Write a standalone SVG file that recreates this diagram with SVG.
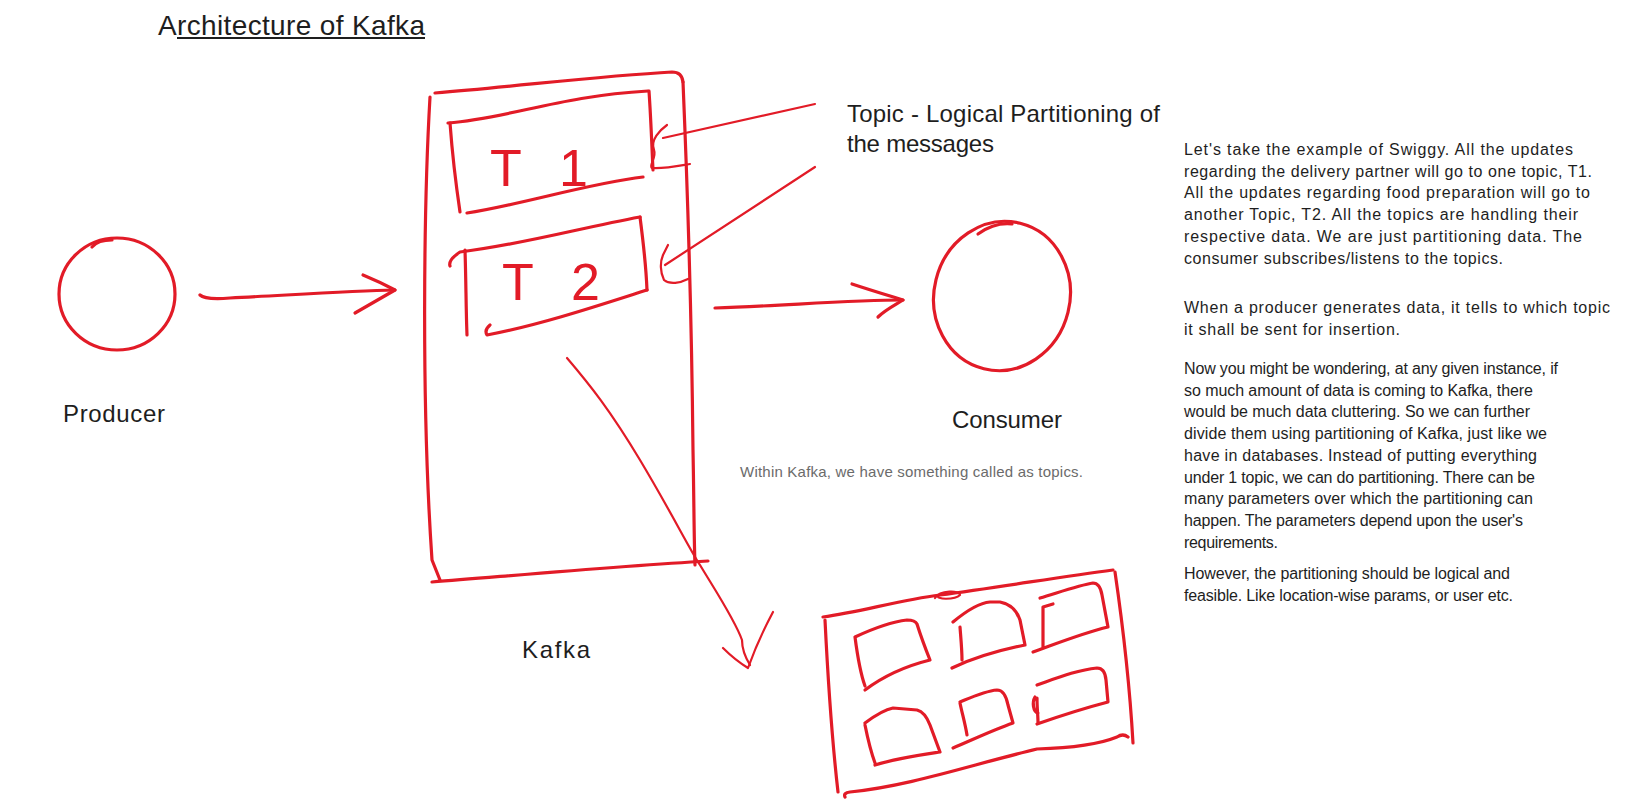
<svg xmlns="http://www.w3.org/2000/svg" width="1642" height="810" viewBox="0 0 1642 810">
<style>
.r{fill:none;stroke:#e21b27;stroke-width:3.2;stroke-linecap:round;stroke-linejoin:round}
.rt{fill:none;stroke:#e21b27;stroke-width:2.2;stroke-linecap:round;stroke-linejoin:round}
.lbl{font-family:"Liberation Sans",Arial,sans-serif;font-size:24px;fill:#1e1e1e}
.note{font-family:"Liberation Sans",Arial,sans-serif;font-size:16px;fill:#1e1e1e}
.tt{font-family:"Liberation Sans",Arial,sans-serif;font-size:52px;fill:#e21b27}
</style>
<rect width="1642" height="810" fill="#ffffff"/>
<g id="title">
<text x="158" y="35" font-family="'Liberation Sans',Arial,sans-serif" font-size="28" fill="#1e1e1e" textLength="267">Architecture of Kafka</text>
<path d="M177,38 L425,38" stroke="#1e1e1e" stroke-width="2" fill="none"/>
</g>
<g id="producer">
<ellipse class="r" cx="117" cy="294" rx="58" ry="56"/>
<path class="r" d="M92,247 Q98,240 112,240"/>
<text class="lbl" x="63" y="422" textLength="102">Producer</text>
</g>
<g id="kafka">
<path class="r" d="M430,97 C424,200 421,400 432,560 L440,580"/>
<path class="r" d="M435,93 C520,86 600,76 672,72 Q682,72 683,82"/>
<path class="r" d="M683,82 C688,200 692,350 693,450 C694,500 694,540 695,565"/>
<path class="r" d="M432,582 C520,575 620,566 708,561"/>
<text class="lbl" x="522" y="658" textLength="68">Kafka</text>
</g>
<g id="t1">
<path class="r" d="M450,123 C452,150 456,185 460,212"/>
<path class="r" d="M448,123 C510,118 560,96 648,91"/>
<path class="r" d="M649,91 C651,120 652,150 653,170"/>
<path class="r" d="M643,177 C590,183 520,205 467,213"/>
<text class="tt" x="490" y="186" textLength="98">T1</text>
</g>
<g id="t2">
<path class="r" d="M450,266 Q448,260 460,252 C520,245 580,228 640,217"/>
<path class="r" d="M465,250 C466,280 466,310 467,335"/>
<path class="r" d="M640,217 C643,240 646,265 647,290"/>
<path class="r" d="M647,290 C600,305 540,325 487,335 Q484,330 490,325"/>
<text class="tt" x="502" y="300" textLength="98">T2</text>
</g>
<g id="consumer">
<ellipse class="r" cx="1002" cy="296" rx="68" ry="75" transform="rotate(14 1002 296)"/>
<path class="r" d="M978,234 Q995,222 1012,224"/>
<text class="lbl" x="952" y="428" textLength="110">Consumer</text>
</g>
<g id="topic-label">
<text class="lbl" x="847" y="122" textLength="313">Topic - Logical Partitioning of</text>
<text class="lbl" x="847" y="152" textLength="147">the messages</text>
</g>
<g id="caption">
<text x="740" y="477" font-family="'Liberation Sans',Arial,sans-serif" font-size="15" fill="#6b6b6b" textLength="343">Within Kafka, we have something called as topics.</text>
</g>
<g id="partitions">
<path class="r" d="M825,620 C828,680 832,740 838,792"/>
<path class="r" d="M823,617 C860,612 900,600 940,595 C1000,587 1060,577 1113,570"/>
<path class="r" d="M1115,572 C1122,620 1130,690 1133,743"/>
<path class="r" d="M845,797 Q843,793 850,792 C910,786 970,765 1037,749 C1070,748 1100,744 1117,737 Q1123,733 1128,737"/>
<path class="rt" d="M935,598 C940,590 960,590 960,595 C955,600 935,600 938,595"/>
<path class="r" d="M855,637 C858,660 861,675 865,686 M855,637 C870,630 890,622 907,620 Q915,620 917,624 C922,640 926,650 930,660 C910,665 885,675 865,690"/>
<path class="r" d="M960,627 C961,640 962,650 962,660 M953,622 C965,612 978,603 990,602 L1000,602 Q1015,605 1020,620 L1025,645 C1000,650 975,657 952,668"/>
<path class="r" d="M1043,607 C1043,620 1043,635 1043,647 M1043,607 L1053,604 M1040,598 C1060,592 1080,585 1093,583 Q1100,583 1102,595 L1108,627 C1083,633 1058,643 1033,652"/>
<path class="r" d="M865,725 C868,740 871,752 875,763 M865,723 C873,717 883,710 893,708 L917,710 Q925,712 930,725 L940,752 C920,755 898,758 875,765"/>
<path class="r" d="M960,703 C962,713 965,723 967,735 M960,702 C972,697 985,691 997,690 Q1005,690 1008,705 L1013,723 C993,730 972,740 953,748"/>
<path class="r" d="M1037,698 C1037,708 1038,716 1038,723 M1035,697 C1032,702 1033,712 1038,713 M1037,685 C1057,678 1077,670 1097,668 Q1105,668 1106,680 L1108,702 C1085,708 1060,716 1037,724"/>
</g>
<g id="notes" class="note">
<text x="1184" y="155" textLength="389">Let's take the example of Swiggy. All the updates</text>
<text x="1184" y="176.7" textLength="408">regarding the delivery partner will go to one topic, T1.</text>
<text x="1184" y="198.4" textLength="406">All the updates regarding food preparation will go to</text>
<text x="1184" y="220" textLength="394">another Topic, T2. All the topics are handling their</text>
<text x="1184" y="241.8" textLength="398">respective data. We are just partitioning data. The</text>
<text x="1184" y="263.5" textLength="319">consumer subscribes/listens to the topics.</text>
<text x="1184" y="313" textLength="426">When a producer generates data, it tells to which topic</text>
<text x="1184" y="335" textLength="216">it shall be sent for insertion.</text>
<text x="1184" y="374" textLength="374">Now you might be wondering, at any given instance, if</text>
<text x="1184" y="395.7" textLength="349">so much amount of data is coming to Kafka, there</text>
<text x="1184" y="417.4" textLength="346">would be much data cluttering. So we can further</text>
<text x="1184" y="439" textLength="363">divide them using partitioning of Kafka, just like we</text>
<text x="1184" y="460.8" textLength="353">have in databases. Instead of putting everything</text>
<text x="1184" y="482.5" textLength="351">under 1 topic, we can do partitioning. There can be</text>
<text x="1184" y="504.2" textLength="349">many parameters over which the partitioning can</text>
<text x="1184" y="526" textLength="339">happen. The parameters depend upon the user's</text>
<text x="1184" y="547.6" textLength="94">requirements.</text>
<text x="1184" y="579" textLength="326">However, the partitioning should be logical and</text>
<text x="1184" y="601" textLength="329">feasible. Like location-wise params, or user etc.</text>
</g>
<g id="connectors">
<path class="r" d="M200,295 Q205,300 230,298 C290,295 350,291 395,290"/>
<path class="r" d="M363,275 Q380,282 395,290 L355,313"/>
<path class="r" d="M715,308 C780,306 850,300 903,300"/>
<path class="r" d="M852,284 C870,290 890,296 903,300 C895,305 885,310 878,317"/>
<path class="rt" d="M567,358 C590,385 610,410 640,460 C670,510 690,550 700,565 C715,590 735,620 742,640 Q742,652 750,665"/>
<path class="rt" d="M723,648 Q735,660 748,668 Q758,640 773,612"/>
<path class="rt" d="M667,125 C660,130 650,140 654,150 C657,158 648,166 652,168 C662,169 678,166 690,164"/>
<path class="rt" d="M663,138 L815,104"/>
<path class="rt" d="M668,245 L663,255 C660,262 660,272 664,280 C670,285 680,283 688,279"/>
<path class="rt" d="M665,265 L815,167"/>
</g>
</svg>
